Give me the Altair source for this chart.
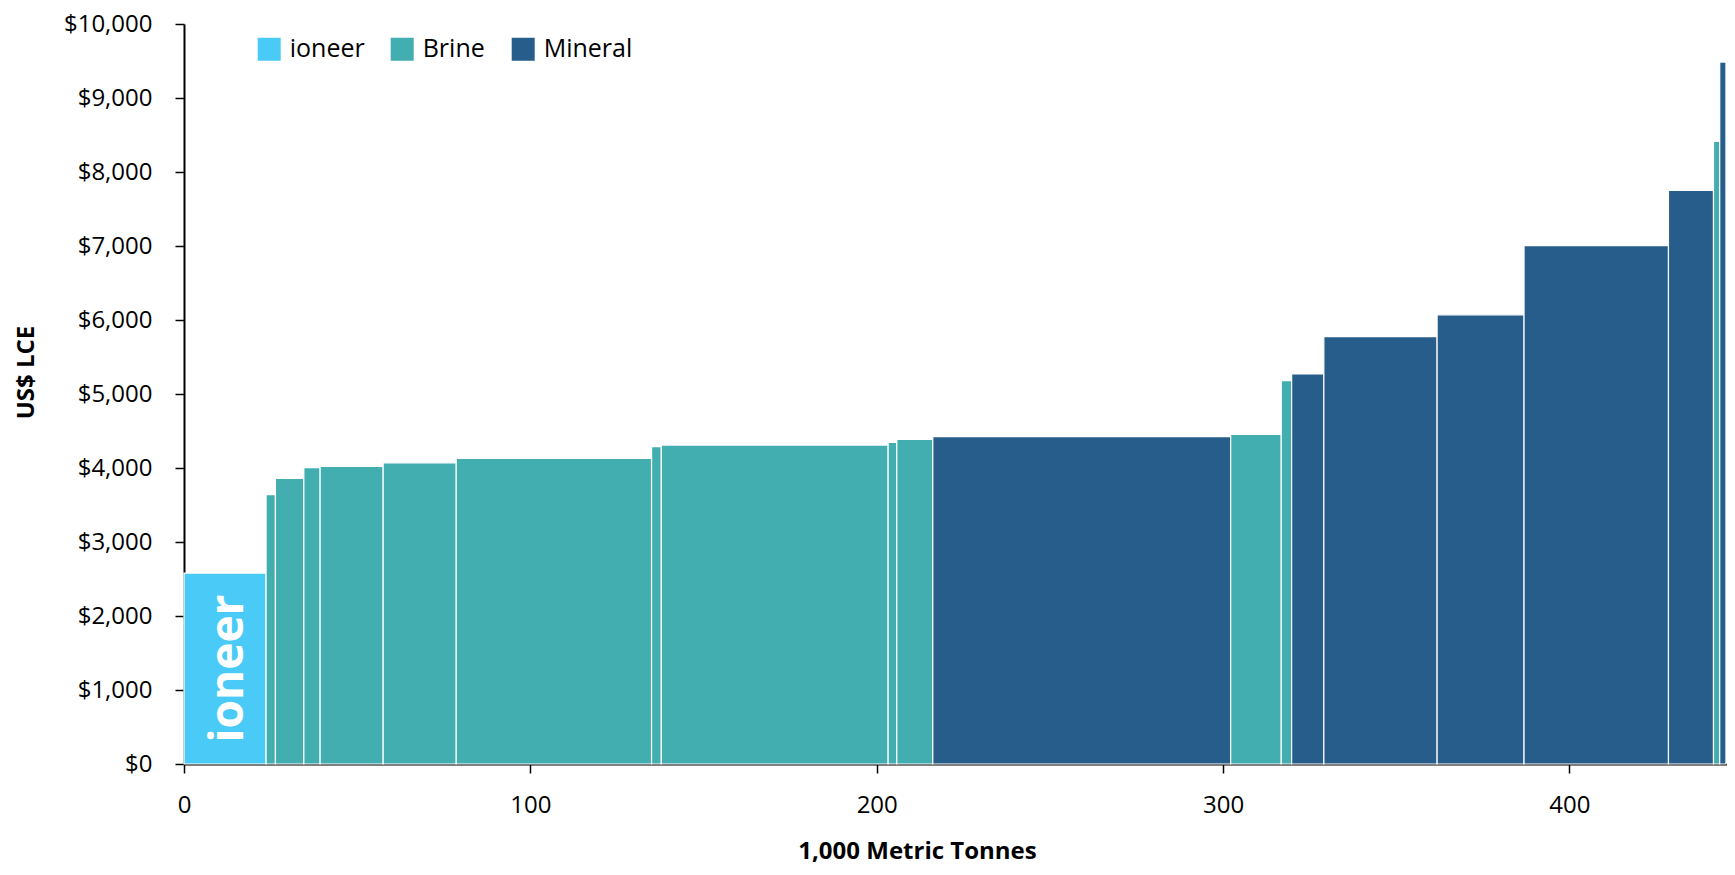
import altair as alt
import pandas as pd

# ---- data ----
categories = ["ioneer", "Brine", "Brine", "Brine", "Brine", "Brine", "Brine",
              "Brine", "Brine", "Brine", "Brine", "Mineral", "Brine", "Brine",
              "Mineral", "Mineral", "Mineral", "Mineral", "Mineral", "Brine", "Mineral"]
capacity = [23.7, 2.7, 8.2, 4.7, 18.2, 21.1, 56.4, 2.8, 65.5, 2.5, 10.4,
            86.0, 14.6, 3.0, 9.3, 32.7, 25.1, 41.7, 13.0, 1.8, 1.8]
cost = [2580, 3640, 3860, 4005, 4020, 4070, 4130, 4290, 4310, 4345, 4385,
        4425, 4455, 5180, 5270, 5775, 6070, 7005, 7750, 8415, 9485]

legend_order = ["ioneer", "Brine", "Mineral"]
legend_colors = ["#4ACBF7", "#42AEB0", "#265D8A"]
x_ticks = [0, 100, 200, 300, 400]
y_ticks = list(range(0, 10001, 1000))

ends = pd.Series(capacity).cumsum()
starts = ends - pd.Series(capacity)
df = pd.DataFrame({"category": categories, "start": starts.round(2),
                   "end": ends.round(2), "cost": cost})

logo = df[df["category"] == "ioneer"].copy()
logo["mid"] = (logo["start"] + logo["end"]) / 2
logo["half"] = logo["cost"] / 2
logo["label"] = "ioneer"

FONT = "Open Sans"

x_scale = alt.Scale(domain=[0, 445.5], nice=False, zero=False)
y_scale = alt.Scale(domain=[0, 10000], nice=False)

bars = alt.Chart(df).mark_rect(stroke="white", strokeWidth=1.2, opacity=1).encode(
    x=alt.X("start:Q", scale=x_scale,
            axis=alt.Axis(values=x_ticks, title="1,000 Metric Tonnes", grid=False,
                          labelFlush=False, tickSize=9, labelPadding=20,
                          titleX=733, titleY=94, titleBaseline="alphabetic",
                          titleAlign="center")),
    x2="end:Q",
    y=alt.Y("cost:Q", scale=y_scale,
            axis=alt.Axis(values=y_ticks, format="$,.0f", title="US$ LCE", grid=False,
                          labelFlush=False, tickSize=9, labelPadding=23,
                          titleAngle=270, titleX=-151, titleY=348,
                          titleBaseline="alphabetic", titleAlign="center")),
    y2=alt.datum(0),
    color=alt.Color("category:N",
                    scale=alt.Scale(domain=legend_order, range=legend_colors),
                    legend=alt.Legend(title=None, orient="none", legendX=72.7, legendY=12.5,
                                      direction="horizontal", symbolType="square",
                                      symbolSize=529, symbolStrokeWidth=0,
                                      labelOffset=8, columnPadding=25, padding=0,
                                      labelFontSize=25, labelFont=FONT,
                                      labelColor="black")),
)

logo_text = alt.Chart(logo).mark_text(
    angle=270, align="center", baseline="alphabetic", dy=18,
    font=FONT, fontSize=46, fontWeight="bold", color="white"
).encode(
    x=alt.X("mid:Q", scale=x_scale),
    y=alt.Y("half:Q", scale=y_scale),
    text="label:N",
)

chart = alt.layer(bars, logo_text).properties(
    width=1543, height=740,
    autosize=alt.AutoSizeParams(type="none"),
    padding={"left": 176, "top": 16, "right": 0, "bottom": 103},
).configure_view(stroke=None).configure_axis(
    domainColor="black", domainWidth=2, tickColor="black", tickWidth=1.5,
    labelFont=FONT, labelFontSize=24, labelColor="black",
    titleFont=FONT, titleFontSize=24, titleFontWeight="bold", titleColor="black",
)

chart.save("out.html", embed_options={"renderer": "svg", "actions": False})
